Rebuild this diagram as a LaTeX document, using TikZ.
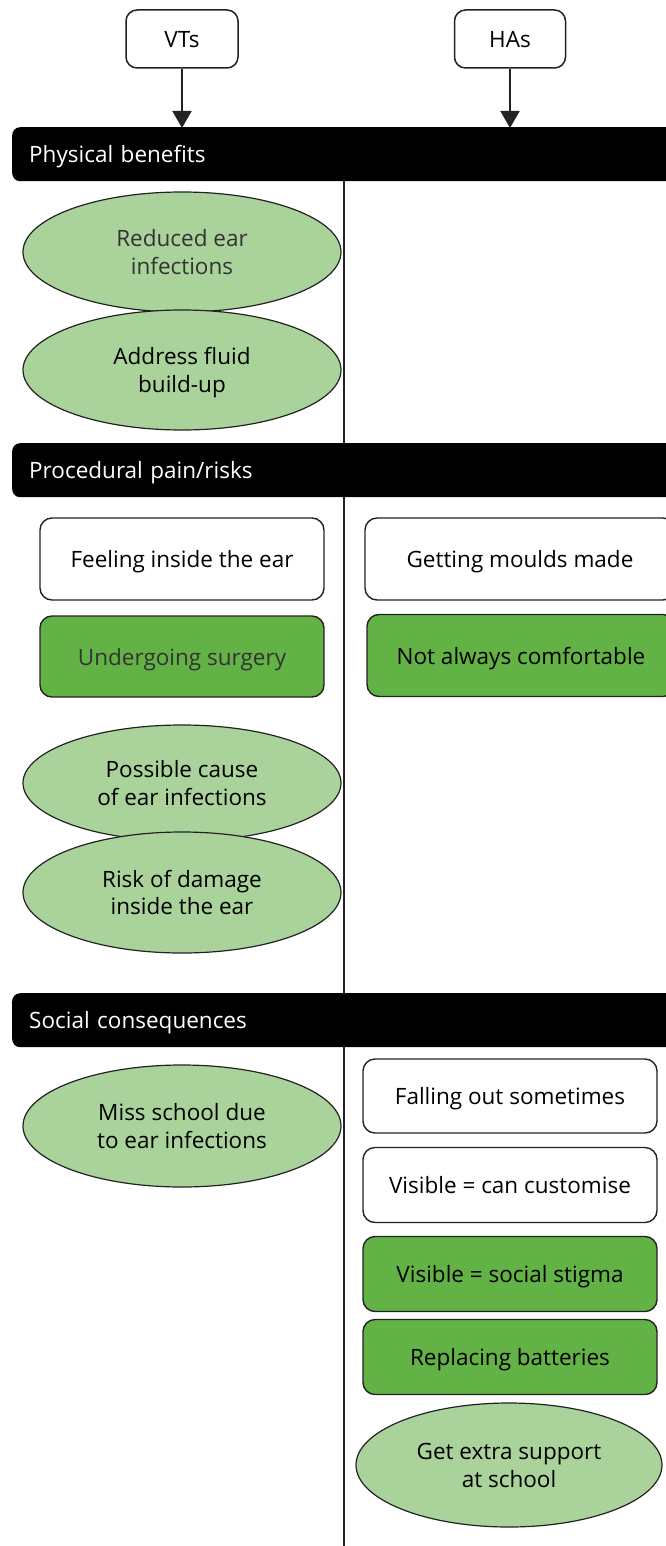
\documentclass[tikz,border=0pt]{standalone}
\usepackage{fontspec}
\setmainfont{Open Sans}
\usetikzlibrary{shapes.geometric,arrows.meta}
\definecolor{lightgreen}{HTML}{A9D39B}
\definecolor{darkgreen}{HTML}{63B246}
\definecolor{edge}{HTML}{222222}
\definecolor{softtext}{HTML}{333333}
% label text, set a little below the optical centre of its shape
\newcommand\tx[1]{\raisebox{-3pt}[\height][\depth]{\begin{tabular}{@{}c@{}}#1\end{tabular}}}
\tikzset{
  base/.style={font=\fontsize{22.5}{27.5}\selectfont, inner sep=0pt},
  topbox/.style={base, draw=edge, line width=1.5pt, rounded corners=11pt, fill=white},
  header/.style={base, fill=black, text=white, rounded corners=8pt, anchor=north west,
    minimum width=680pt, minimum height=54pt, text width=646pt, align=left, inner xsep=17pt},
  oval/.style={base, ellipse, draw=edge, line width=1.2pt, fill=lightgreen},
  plainbox/.style={base, draw=edge, line width=1.4pt, rounded corners=12pt, fill=white},
  greenbox/.style={plainbox, fill=darkgreen},
  arrow/.style={-{Triangle[width=19pt,length=17pt]}, line width=2pt, draw=edge, fill=edge},
  divider/.style={line width=1.2pt, draw=edge}
}
\begin{document}
\begin{tikzpicture}[x=1pt,y=-1pt]
\useasboundingbox (0,0) rectangle (666,1546);
\clip (0,0) rectangle (666,1546);

% column heads
\node[topbox, minimum width=112pt, minimum height=58pt] (vt) at (182,39) {\tx{VTs}};
\node[topbox, minimum width=111pt, minimum height=58pt] (ha) at (510,39) {\tx{HAs}};

% section bars
\node[header] (h1) at (12,127) {\tx{Physical benefits}};
\node[header] (h2) at (12,443) {\tx{Procedural pain/risks}};
\node[header] (h3) at (12,993) {\tx{Social consequences}};

% arrows into the first bar
\draw[arrow] (vt.south) -- ([yshift=-1pt]h1.north -| vt.south);
\draw[arrow] (ha.south) -- ([yshift=-1pt]h1.north -| ha.south);

% column divider
\coordinate (div) at (344,0);
\coordinate (bottom) at (344,1546);
\draw[divider] (h1.south -| div) -- (h2.north -| div);
\draw[divider] (h2.south -| div) -- (h3.north -| div);
\draw[divider] (h3.south -| div) -- (bottom);

% physical benefits
\node[oval, minimum width=318pt, minimum height=120pt, text=softtext] (e1) at (182,252) {\tx{Reduced ear\\infections}};
\node[oval, minimum width=318pt, minimum height=120pt] (e2) at (182,370) {\tx{Address fluid\\build-up}};

% procedural pain/risks
\node[plainbox, minimum width=284pt, minimum height=82pt] (b1) at (182,559) {\tx{Feeling inside the ear}};
\node[plainbox, minimum width=310pt, minimum height=82pt] (b2) at (520,559) {\tx{Getting moulds made}};
\node[greenbox, minimum width=284pt, minimum height=81pt, text=softtext] (b3) at (182,656.5) {\tx{Undergoing surgery}};
\node[greenbox, minimum width=308pt, minimum height=82pt] (b4) at (521,655.5) {\tx{Not always comfortable}};
\node[oval, minimum width=318pt, minimum height=116pt] (e3) at (182,783) {\tx{Possible cause\\of ear infections}};
\node[oval, minimum width=318pt, minimum height=121pt] (e4) at (182,892.5) {\tx{Risk of damage\\inside the ear}};

% social consequences
\node[oval, minimum width=318pt, minimum height=122pt] (e5) at (182,1126) {\tx{Miss school due\\to ear infections}};
\node[plainbox, minimum width=294pt, minimum height=74pt] (b5) at (510,1096) {\tx{Falling out sometimes}};
\node[plainbox, minimum width=294pt, minimum height=75pt] (b6) at (510,1185) {\tx{Visible = can customise}};
\node[greenbox, minimum width=294pt, minimum height=75pt] (b7) at (510,1274) {\tx{Visible = social stigma}};
\node[greenbox, minimum width=294pt, minimum height=75pt] (b8) at (510,1357) {\tx{Replacing batteries}};
\node[oval, minimum width=306pt, minimum height=124pt] (e6) at (509,1465) {\tx{Get extra support\\at school}};
\end{tikzpicture}
\end{document}
